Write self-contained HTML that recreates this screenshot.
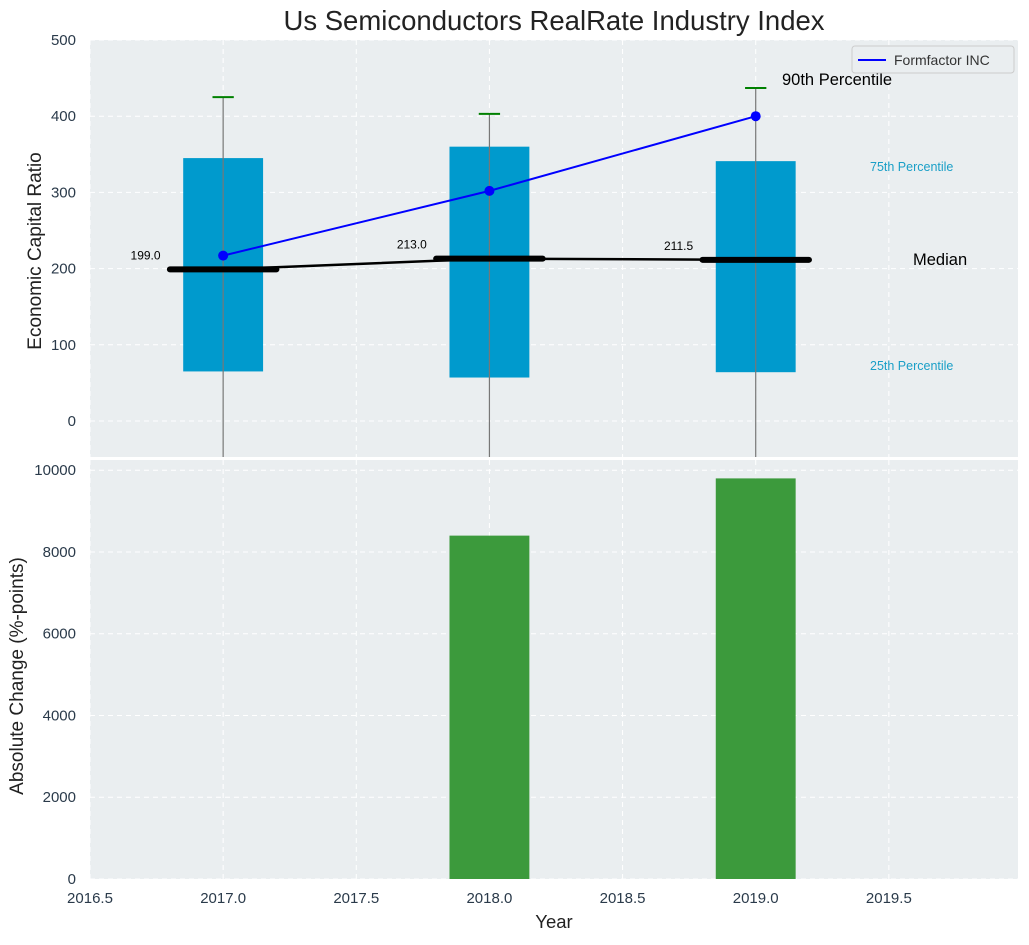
<!DOCTYPE html>
<html><head><meta charset="utf-8">
<style>
body{margin:0;background:#fff;font-family:"Liberation Sans","DejaVu Sans",sans-serif;}
svg text{font-family:"Liberation Sans","DejaVu Sans",sans-serif;}
</style></head>
<body>
<svg id="chart" width="1029" height="940" xmlns="http://www.w3.org/2000/svg"></svg>
<script>
const years=[2017,2018,2019];
const q25=[65,57,64];
const q75=[345,360,341];
const p90=[425,403,437];
const medians=[199.0,213.0,211.5];
const company=[217,302,400];
const absChange=[0,8400,9800];
const xTicks=[2016.5,2017.0,2017.5,2018.0,2018.5,2019.0,2019.5];
const yTopTicks=[0,100,200,300,400,500];
const yBotTicks=[0,2000,4000,6000,8000,10000];

const NS="http://www.w3.org/2000/svg";
const svg=document.getElementById('chart');
function el(tag,attrs,parent){const e=document.createElementNS(NS,tag);for(const k in attrs)e.setAttribute(k,attrs[k]);(parent||svg).appendChild(e);return e;}
const L=90,R=1018;
const x=v=>L+(v-2016.5)*(R-L)/(2019.985-2016.5);
const T0=40,T1=457; const yT=v=>T0+(500-v)*(T1-T0)/(500-(-47.3));
const B0=460,B1=879; const yB=v=>B1-v*(B1-B0)/10250;

let g=el('rect',{x:L,y:T0,width:R-L,height:T1-T0,fill:'#eaeef0'});

g=el('rect',{x:L,y:B0,width:R-L,height:B1-B0,fill:'#eaeef0'});


xTicks.forEach(t=>{
  el('line',{x1:x(t),x2:x(t),y1:T0,y2:T1,stroke:'#fff','stroke-dasharray':'5,4','stroke-width':1});
  el('line',{x1:x(t),x2:x(t),y1:B0,y2:B1,stroke:'#fff','stroke-dasharray':'5,4','stroke-width':1});
  const tx=el('text',{x:x(t),y:903,'text-anchor':'middle','font-size':15,fill:'#2a3a4a'});tx.textContent=t.toFixed(1);
  
});
yTopTicks.forEach(t=>{
  el('line',{x1:L,x2:R,y1:yT(t),y2:yT(t),stroke:'#fff','stroke-dasharray':'5,4','stroke-width':1});
  const tx=el('text',{x:76,y:yT(t)+5,'text-anchor':'end','font-size':15,fill:'#2a3a4a'});tx.textContent=t;
  
});
yBotTicks.forEach(t=>{
  el('line',{x1:L,x2:R,y1:yB(t),y2:yB(t),stroke:'#fff','stroke-dasharray':'5,4','stroke-width':1});
  const tx=el('text',{x:76,y:yB(t)+5,'text-anchor':'end','font-size':15,fill:'#2a3a4a'});tx.textContent=t;
  
});

years.forEach((yr,i)=>{
  const b=el('rect',{x:x(yr-0.15),y:yT(q75[i]),width:x(yr+0.15)-x(yr-0.15),height:yT(q25[i])-yT(q75[i]),fill:'#009acd'});
  
  el('line',{x1:x(yr),x2:x(yr),y1:yT(p90[i]),y2:T1,stroke:'#777','stroke-width':1.2});
  const c=el('line',{x1:x(yr-0.04),x2:x(yr+0.04),y1:yT(p90[i]),y2:yT(p90[i]),stroke:'#008000','stroke-width':2});
  
});
el('polyline',{points:years.map((yr,i)=>x(yr)+','+yT(medians[i])).join(' '),fill:'none',stroke:'#000','stroke-width':2.5});
years.forEach((yr,i)=>{
  const m=el('line',{x1:x(yr-0.2),x2:x(yr+0.2),y1:yT(medians[i]),y2:yT(medians[i]),stroke:'#000','stroke-width':6,'stroke-linecap':'round'});
  
  const t=el('text',{x:x(yr-0.235),y:yT(medians[i])-10,'text-anchor':'end','font-size':12,fill:'#000'});t.textContent=medians[i].toFixed(1);
  
});
const pl=el('polyline',{points:years.map((yr,i)=>x(yr)+','+yT(company[i])).join(' '),fill:'none',stroke:'#0000ff','stroke-width':2});

years.forEach((yr,i)=>{const c=el('circle',{cx:x(yr),cy:yT(company[i]),r:5,fill:'#0000ff'});
  });

[['90th Percentile',782,85,16.5,'#000'],['75th Percentile',870,171,12.5,'#1a9fc7'],['Median',913,265,16.5,'#000'],['25th Percentile',870,370,12.5,'#1a9fc7']].forEach(a=>{
  const t=el('text',{x:a[1],y:a[2],'font-size':a[3],fill:a[4]});t.textContent=a[0];
  
});

const lg=el('g',{});
el('rect',{x:852,y:46,width:162,height:27,fill:'#eaeef0',stroke:'#ccc',rx:3},lg);
el('line',{x1:858,x2:886,y1:60,y2:60,stroke:'#0000ff','stroke-width':2},lg);
const lt=el('text',{x:894,y:65,'font-size':14,fill:'#333'},lg);lt.textContent='Formfactor INC';

years.forEach((yr,i)=>{
  const b=el('rect',{x:x(yr-0.15),y:yB(absChange[i]),width:x(yr+0.15)-x(yr-0.15),height:yB(0)-yB(absChange[i]),fill:'#3c9a3c'});
  
});

let t=el('text',{x:554,y:30,'text-anchor':'middle','font-size':27.5,fill:'#222'});t.textContent='Us Semiconductors RealRate Industry Index';

t=el('text',{x:554,y:928,'text-anchor':'middle','font-size':18.5,fill:'#222'});t.textContent='Year';

t=el('text',{x:0,y:0,'text-anchor':'middle','font-size':19,fill:'#222',transform:'translate(41,251) rotate(-90)'});t.textContent='Economic Capital Ratio';

t=el('text',{x:0,y:0,'text-anchor':'middle','font-size':19,fill:'#222',transform:'translate(23,676) rotate(-90)'});t.textContent='Absolute Change (%-points)';

</script>
</body></html>
